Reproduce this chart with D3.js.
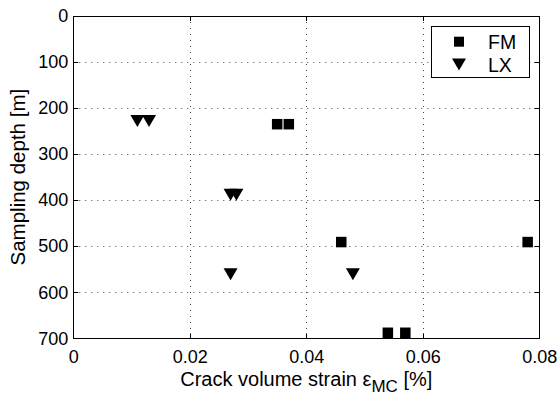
<!DOCTYPE html>
<html>
<head>
<meta charset="utf-8">
<script src="https://cdn.jsdelivr.net/npm/d3@7"></script>
<style>
  body { margin: 0; background: #fff; }
  svg { display: block; font-family: "Liberation Sans", Arial, sans-serif; }
</style>
</head>
<body>
<svg id="chart" width="559" height="396"></svg>
<script>
// FM samples (squares)
const fmStrain = [0.035, 0.037, 0.046, 0.078, 0.054, 0.057];
const fmDepth  = [235, 235, 491, 491, 688, 688];

// LX samples (downward triangles)
const lxStrain = [0.011, 0.013, 0.027, 0.028, 0.027, 0.048];
const lxDepth  = [228, 228, 388, 388, 561, 561];

const xTicks = [0, 0.02, 0.04, 0.06, 0.08];
const yTicks = [0, 100, 200, 300, 400, 500, 600, 700];

const svg = d3.select("#chart");
const pLeft = 73.3, pRight = 539.3, pTop = 16, pBottom = 338.3;

const x = d3.scaleLinear().domain([0, 0.08]).range([pLeft, pRight]);
const y = d3.scaleLinear().domain([0, 700]).range([pTop, pBottom]);

// dotted grid
const grid = svg.append("g")
  .attr("stroke", "#444")
  .attr("stroke-width", 1)
  .attr("stroke-dasharray", "1,5");

grid.selectAll("line.vx")
  .data(xTicks.slice(1, -1))
  .join("line")
  .attr("class", "vx")
  .attr("x1", d => Math.round(x(d)) + 0.5)
  .attr("x2", d => Math.round(x(d)) + 0.5)
  .attr("y1", pTop)
  .attr("y2", pBottom);

grid.selectAll("line.hy")
  .data(yTicks.slice(1, -1))
  .join("line")
  .attr("class", "hy")
  .attr("y1", d => Math.round(y(d)) + 0.5)
  .attr("y2", d => Math.round(y(d)) + 0.5)
  .attr("x1", pLeft)
  .attr("x2", pRight);

// axes (ticks inside, mirrored on all sides)
const tickLen = 5;
const xAxisB = d3.axisBottom(x).tickValues(xTicks).tickSize(0).tickPadding(12)
  .tickFormat(d => d === 0 ? "0" : d3.format(".2f")(d));
const yAxisL = d3.axisLeft(y).tickValues(yTicks).tickSize(0).tickPadding(5)
  .tickFormat(d3.format("d"));

const gx = svg.append("g").attr("transform", `translate(0,${pBottom})`).call(xAxisB);
const gy = svg.append("g").attr("transform", `translate(${pLeft},0)`).call(yAxisL);
[gx, gy].forEach(g => {
  g.select(".domain").remove();
  g.selectAll("text").attr("font-size", 18).attr("fill", "#000")
    .attr("font-family", "Liberation Sans, Arial, sans-serif");
});

const ticks = svg.append("g").attr("stroke", "#000").attr("stroke-width", 1);
xTicks.forEach(d => {
  const px = Math.round(x(d)) + 0.5;
  ticks.append("line").attr("x1", px).attr("x2", px).attr("y1", pBottom).attr("y2", pBottom - tickLen);
  ticks.append("line").attr("x1", px).attr("x2", px).attr("y1", pTop).attr("y2", pTop + tickLen);
});
yTicks.forEach(d => {
  const py = Math.round(y(d)) + 0.5;
  ticks.append("line").attr("x1", pLeft).attr("x2", pLeft + tickLen).attr("y1", py).attr("y2", py);
  ticks.append("line").attr("x1", pRight).attr("x2", pRight - tickLen).attr("y1", py).attr("y2", py);
});

svg.append("rect")
  .attr("x", Math.round(pLeft) + 0.5).attr("y", pTop + 0.5)
  .attr("width", Math.round(pRight) - Math.round(pLeft)).attr("height", Math.round(pBottom) - pTop)
  .attr("fill", "none").attr("stroke", "#000").attr("stroke-width", 1);

// markers
const sq = 10.5, triW = 14, triH = 12;
const triPath = (cx, cy) =>
  `M${cx - triW / 2},${cy - triH / 2}L${cx + triW / 2},${cy - triH / 2}L${cx},${cy + triH / 2}Z`;

const fm = fmStrain.map((s, i) => ({ s, d: fmDepth[i] }));
const lx = lxStrain.map((s, i) => ({ s, d: lxDepth[i] }));

svg.append("g").selectAll("rect")
  .data(fm)
  .join("rect")
  .attr("x", d => x(d.s) - sq / 2)
  .attr("y", d => y(d.d) - sq / 2)
  .attr("width", sq)
  .attr("height", sq)
  .attr("fill", "#000");

svg.append("g").selectAll("path")
  .data(lx)
  .join("path")
  .attr("d", d => triPath(x(d.s), y(d.d)))
  .attr("fill", "#000");

// legend
const lg = svg.append("g");
lg.append("rect")
  .attr("x", 431.5).attr("y", 26.5).attr("width", 98).attr("height", 51)
  .attr("fill", "#fff").attr("stroke", "#000").attr("stroke-width", 1);
lg.append("rect").attr("x", 459 - 5).attr("y", 41.7 - 5).attr("width", 10).attr("height", 10).attr("fill", "#000");
lg.append("path").attr("d", triPath(459, 64.5)).attr("fill", "#000");
lg.append("text").attr("x", 488).attr("y", 41.7).attr("dy", "0.36em")
  .attr("font-size", 19.5).text("FM");
lg.append("text").attr("x", 488).attr("y", 64.5).attr("dy", "0.36em")
  .attr("font-size", 19.5).text("LX");

// axis labels
const xl = svg.append("text")
  .attr("x", (pLeft + pRight) / 2).attr("y", 386)
  .attr("text-anchor", "middle").attr("font-size", 20);
xl.append("tspan").text("Crack volume strain ");
xl.append("tspan").text("ε");
xl.append("tspan").attr("font-size", 17).attr("dy", 6).text("MC");
xl.append("tspan").attr("dy", -6).text(" [%]");

svg.append("text")
  .attr("transform", `translate(25,${(pTop + pBottom) / 2}) rotate(-90)`)
  .attr("text-anchor", "middle").attr("font-size", 20.5)
  .text("Sampling depth [m]");
</script>
</body>
</html>
